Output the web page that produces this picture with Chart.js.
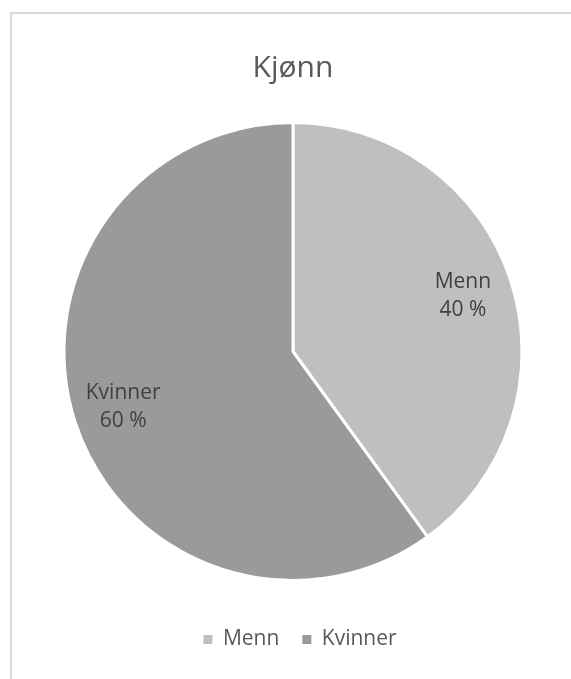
<!DOCTYPE html>
<html>
<head>
<meta charset="utf-8">
<title>Kjønn</title>
<script src="https://cdn.jsdelivr.net/npm/chart.js@4"></script>
<style>
  html, body { margin: 0; padding: 0; background: #fff; }
  #kjonn { display: block; }
</style>
</head>
<body>
<canvas id="kjonn" width="571" height="679"></canvas>
<script>
// kjønnsfordeling
const kategorier = ['Menn', 'Kvinner']
const andeler = [40, 60]
const farger = ['#bfbfbf', '#9a9a9a']

// ramme oppe og til venstre
const ramme = {
    id: 'ramme',
    beforeDraw(chart) {
        const ctx = chart.ctx
        ctx.save()
        ctx.strokeStyle = '#d9d9d9'
        ctx.lineWidth = 2
        ctx.beginPath()
        ctx.moveTo(571, 13)
        ctx.lineTo(11, 13)
        ctx.lineTo(11, 679)
        ctx.stroke()
        ctx.restore()
    },
    // forklaringen litt mot høyre
    afterLayout(chart) {
        chart.legend.left += 7
        chart.legend.right += 7
    }
}

// etiketter med navn og prosent inne i sektorene
const etiketter = {
    id: 'etiketter',
    afterDatasetsDraw(chart) {
        const ctx = chart.ctx
        const meta = chart.getDatasetMeta(0)
        const sum = andeler.reduce((a, b) => a + b, 0)
        ctx.save()
        ctx.fillStyle = '#404040'
        ctx.font = '21px "Open Sans"'
        ctx.textAlign = 'center'
        ctx.textBaseline = 'middle'
        meta.data.forEach((arc, i) => {
            const p = arc.getProps(['x', 'y', 'startAngle', 'endAngle', 'outerRadius'], true)
            const mid = (p.startAngle + p.endAngle) / 2
            const r = p.outerRadius * 0.78
            const x = p.x + Math.cos(mid) * r
            const y = p.y + Math.sin(mid) * r
            const pst = Math.round(andeler[i] / sum * 100)
            ctx.fillText(kategorier[i], x, y - 14)
            ctx.fillText(pst + ' %', x, y + 14)
        })
        ctx.restore()
    }
}

const ctx = document.getElementById('kjonn').getContext('2d')
new Chart(ctx, {
    type: 'pie',
    data: {
        labels: kategorier,
        datasets: [{
            data: andeler,
            backgroundColor: farger,
            borderColor: '#ffffff',
            borderWidth: 3,
            radius: 229
        }]
    },
    options: {
        responsive: false,
        animation: false,
        layout: { padding: { left: 15, right: 0, top: 0, bottom: 19 } },
        plugins: {
            title: {
                display: true,
                text: 'Kjønn',
                color: '#595959',
                font: { family: '"Open Sans"', size: 30, weight: 'normal' },
                padding: { top: 50, bottom: 11 }
            },
            legend: {
                position: 'bottom',
                labels: {
                    color: '#595959',
                    font: { family: '"Open Sans"', size: 21 },
                    boxWidth: 9,
                    boxHeight: 9,
                    padding: 23,
                    // firkantene uten den hvite kanten
                    generateLabels(chart) {
                        return Chart.overrides.pie.plugins.legend.labels.generateLabels(chart)
                            .map(l => Object.assign(l, { lineWidth: 0 }))
                    }
                }
            },
            tooltip: { enabled: false }
        }
    },
    plugins: [ramme, etiketter]
})
</script>
</body>
</html>
